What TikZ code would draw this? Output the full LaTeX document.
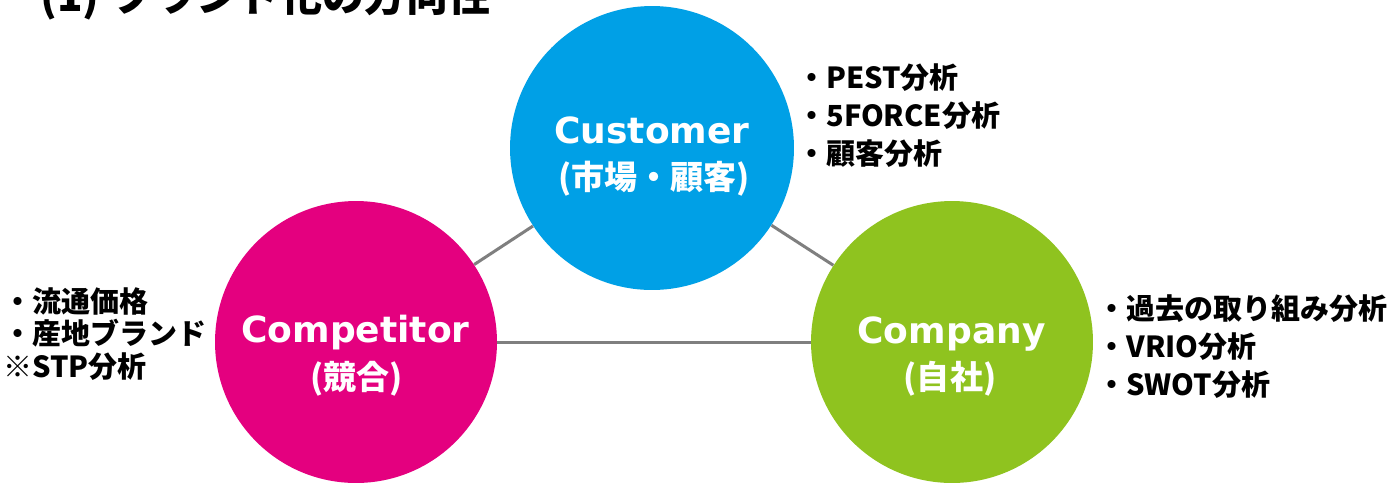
\documentclass[tikz,border=0pt]{standalone}
\usepackage{fontspec}
\newfontfamily\cjk{Noto Sans CJK JP}
\newfontfamily\dvs{DejaVu Sans}
\definecolor{custblue}{HTML}{00A0E6}
\definecolor{comppink}{HTML}{E4007F}
\definecolor{compgreen}{HTML}{8FC31F}
\definecolor{linkgray}{HTML}{7F7F7F}
\begin{document}
\begin{tikzpicture}[x=0.02cm,y=-0.02cm,
  bubble/.style={circle,draw=none,inner sep=0,minimum size=5.64cm},
  link/.style={draw=linkgray,line width=0.06cm},
  entitle/.style={text=white,inner sep=0,anchor=base,font=\dvs\bfseries\fontsize{20.5}{24}\selectfont},
  jatitle/.style={text=white,inner sep=0,anchor=base,font=\cjk\bfseries\fontsize{18.8}{22}\selectfont},
  notes/.style={inner sep=0,anchor=west,align=left,font=\cjk\bfseries\fontsize{16.5}{21.6}\selectfont}]
\useasboundingbox (0,0) rectangle (1398,485);
\fill[white] (0,0) rectangle (1398,485);
% circles
\node[bubble,fill=custblue,minimum size=5.68cm] (cust) at (652,148) {};
\node[bubble,fill=comppink] (compet) at (356,342) {};
\node[bubble,fill=compgreen] (compan) at (952,342) {};
% connectors
\draw[link] (compet) -- (cust);
\draw[link] (cust) -- (compan);
\draw[link] (compet) -- (compan);
% circle labels
\node[entitle] (custen) at (652,143) {Customer};
\node[jatitle] (custja) at (654,189) {(市場・顧客)};
\node[entitle] (competen) at (355.5,342) {Competitor};
\node[jatitle] (competja) at (356.5,389) {(競合)};
\node[entitle] (companen) at (951.5,343) {Company};
\node[jatitle] (companja) at (950,389) {(自社)};
% notes
\node[notes] (custnotes) at (797,116) {・PEST分析\\・5FORCE分析\\・顧客分析};
\node[notes] (companotes) at (1097,347) {・過去の取り組み分析\\・VRIO分析\\・SWOT分析};
\node[notes,font=\cjk\bfseries\fontsize{16.5}{18.5}\selectfont] (competnotes) at (3,334) {・流通価格\\・産地ブランド\\※STP分析};
% title (cut off at the top edge, as in the reference)
\begin{scope}
\clip (0,0) rectangle (1398,485);
\node[anchor=base west,inner sep=0,font=\cjk\bfseries\fontsize{23.9}{28}\selectfont] (title) at (40,11) {(1)\hspace{0.3em}ブランド化の方向性};
\end{scope}
\end{tikzpicture}
\end{document}
